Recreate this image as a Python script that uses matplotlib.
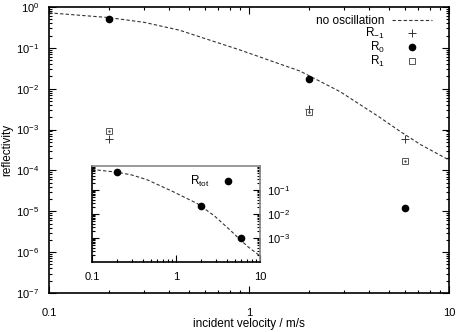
import matplotlib

matplotlib.use("Agg")
import matplotlib.pyplot as plt
from matplotlib.ticker import FuncFormatter, LogLocator, NullFormatter

plt.rcParams["font.family"] = ["Liberation Sans", "DejaVu Sans"]
plt.rcParams["mathtext.fontset"] = "custom"
plt.rcParams["mathtext.rm"] = "Liberation Sans"
plt.rcParams["mathtext.it"] = "Liberation Sans"

# velocities of the computed points (m/s)
v_pts = [0.2, 2.0, 6.0]
r_m1 = [6.0e-4, 3.2e-3, 6.0e-4]
r_0 = [0.51, 0.0175, 1.2e-5]
r_p1 = [9.0e-4, 2.7e-3, 1.7e-4]
r_tot = [0.56, 0.021, 1.0e-3]

# reflectivity without oscillation (dashed curve)
v_curve = [0.1, 0.2, 0.3, 0.45, 0.6, 0.9, 1.8, 2.85, 4.5, 5.7, 7.2, 10.0]
r_curve = [0.72, 0.55, 0.42, 0.27, 0.17, 0.089, 0.027, 8.5e-3, 2.0e-3, 9.0e-4, 4.3e-4, 1.8e-4]

plain = FuncFormatter(lambda v, _: f"{v:g}")

W, H = 457, 332
fig = plt.figure(figsize=(W / 100, H / 100), dpi=100)
ax = fig.add_axes([49 / W, 1 - 293 / H, 400 / W, 286 / H])

dash = dict(color="#333333", lw=0.8, ls=(0, (3, 2)))
ax.plot(v_curve, r_curve, label="no oscillation", **dash)
ax.plot(v_pts, r_m1, ls="none", marker="+", ms=6, mew=0.7, color="#333333", label=r"R$_{-1}$")
ax.plot(v_pts, r_0, ls="none", marker="o", ms=4.5, color="black", label=r"R$_0$")
ax.plot(v_pts, r_p1, ls="none", marker="s", ms=4.5, mfc="none", mew=0.7, color="#555555",
        label=r"R$_1$")
ax.plot(v_pts, r_p1, ls="none", marker=".", ms=1.5, color="#555555")

ax.set_xscale("log")
ax.set_yscale("log")
ax.set_xlim(0.1, 10)
ax.set_ylim(1e-7, 1)
ax.xaxis.set_major_formatter(plain)
ax.xaxis.set_minor_formatter(NullFormatter())
ax.yaxis.set_major_locator(LogLocator(base=10, numticks=10))
ax.yaxis.set_minor_locator(LogLocator(base=10, subs=range(2, 10), numticks=10))
ax.yaxis.set_minor_formatter(NullFormatter())
ax.tick_params(which="both", direction="in", top=True, right=True, labelsize=8, width=0.8)
ax.tick_params(which="major", length=5)
ax.tick_params(which="minor", length=2.5)
ax.tick_params(axis="x", which="major", pad=11)
ax.tick_params(axis="y", which="major", pad=7)
for s in ax.spines.values():
    s.set_linewidth(1.2)
ax.set_xlabel("incident velocity / m/s", fontsize=8.5, labelpad=0)
ax.set_ylabel("reflectivity", fontsize=8.5, labelpad=2)

ax.legend(loc="upper right", bbox_to_anchor=(1 - 9 / 400, 1), frameon=False,
          markerfirst=False, fontsize=8.5, handlelength=3.4, handletextpad=0.6,
          labelspacing=-0.1, borderaxespad=0.3, numpoints=1)

# inset: total reflectivity
ins = fig.add_axes([92 / W, 1 - 262 / H, 168 / W, 96 / H])
ins.plot(v_curve, r_curve, **dash)
ins.plot(v_pts, r_tot, ls="none", marker="o", ms=4.5, color="black", label=r"R$_{tot}$")
ins.set_xscale("log")
ins.set_yscale("log")
ins.set_xlim(0.1, 10)
ins.set_ylim(1e-4, 1)
ins.xaxis.set_major_formatter(plain)
ins.xaxis.set_minor_formatter(NullFormatter())
ins.set_yticks([1e-1, 1e-2, 1e-3])
ins.yaxis.set_minor_locator(LogLocator(base=10, subs=range(2, 10), numticks=10))
ins.yaxis.set_minor_formatter(NullFormatter())
ins.yaxis.tick_right()
ins.tick_params(which="both", direction="in", left=True, right=True, labelleft=False,
                labelright=True, labelsize=8, width=0.8)
ins.tick_params(which="major", length=5)
ins.tick_params(axis="y", which="major", pad=5)
ins.tick_params(axis="x", which="major", pad=7)
ins.tick_params(which="minor", length=2.5)
ins.patch.set_alpha(0)
for side in ("top", "right"):
    ins.spines[side].set_color("#888888")
for side in ("left", "bottom"):
    ins.spines[side].set_color("black")
for s in ins.spines.values():
    s.set_linewidth(1.2)
ins.legend(loc="upper right", bbox_to_anchor=(1 - 15 / 168, 1), frameon=False,
           markerfirst=False, fontsize=8.5, handlelength=1.5, handletextpad=0.8,
           borderaxespad=0.3, numpoints=1)

fig.savefig("out.png", dpi=100)
